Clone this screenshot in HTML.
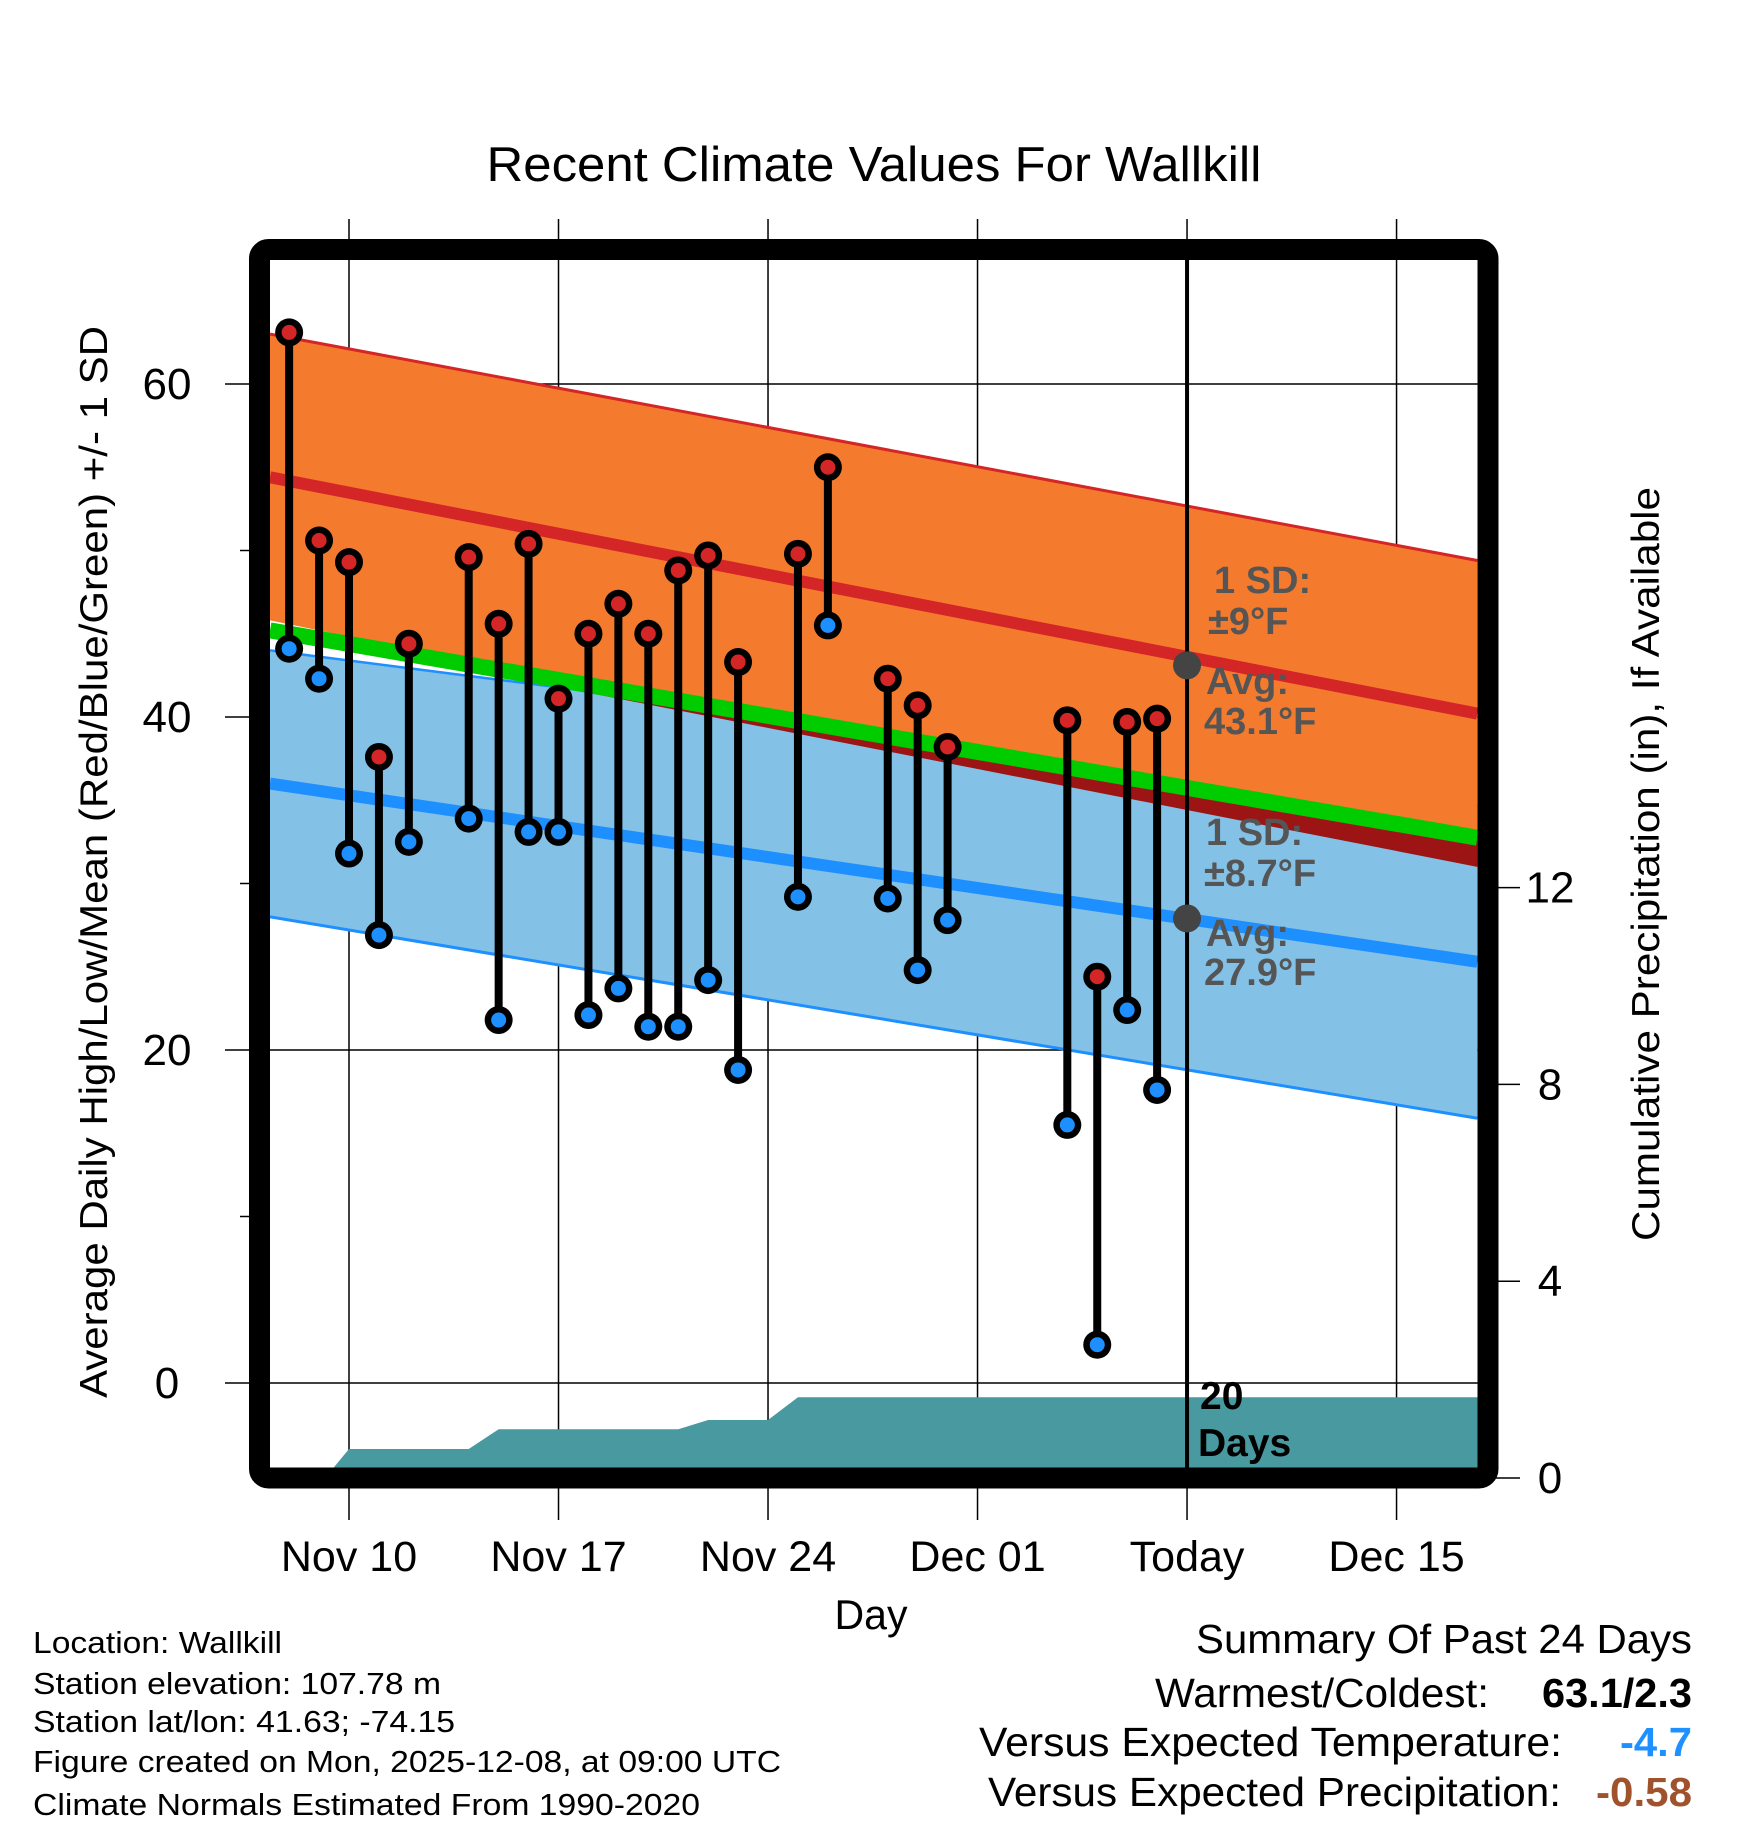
<!DOCTYPE html>
<html><head><meta charset="utf-8"><style>
html,body{margin:0;padding:0;background:#fff}
svg{display:block}
text{font-family:"Liberation Sans",Arial,sans-serif}
</style></head><body>
<svg id="chart" width="1748" height="1828" viewBox="0 0 1748 1828" xmlns="http://www.w3.org/2000/svg">
<defs><clipPath id="plotclip"><rect x="270" y="260" width="1208" height="1208"/></clipPath></defs>
<text x="874" y="181" font-size="49" text-anchor="middle" textLength="775" lengthAdjust="spacingAndGlyphs">Recent Climate Values For Wallkill</text>
<g id="grid"></g>
<g id="bands" clip-path="url(#plotclip)"></g>
<g id="precip" clip-path="url(#plotclip)"></g>
<g id="marks"></g>
<g id="annot"></g>
<rect x="259.5" y="249.5" width="1228.5" height="1228.5" rx="9" fill="none" stroke="#000" stroke-width="21"/>
<g id="axes"></g>
<text x="871" y="1629" font-size="42" text-anchor="middle" textLength="73" lengthAdjust="spacingAndGlyphs">Day</text>
<text transform="translate(107,862) rotate(-90)" font-size="39" text-anchor="middle" textLength="1072" lengthAdjust="spacingAndGlyphs">Average Daily High/Low/Mean (Red/Blue/Green) +/- 1 SD</text>
<text transform="translate(1659,864) rotate(-90)" font-size="39" text-anchor="middle" textLength="754" lengthAdjust="spacingAndGlyphs">Cumulative Precipitation (in), If Available</text>
<g font-size="31">
<text x="33" y="1653" textLength="249" lengthAdjust="spacingAndGlyphs">Location: Wallkill</text>
<text x="33" y="1694" textLength="408" lengthAdjust="spacingAndGlyphs">Station elevation: 107.78 m</text>
<text x="33" y="1732" textLength="422" lengthAdjust="spacingAndGlyphs">Station lat/lon: 41.63; -74.15</text>
<text x="33" y="1772" textLength="748" lengthAdjust="spacingAndGlyphs">Figure created on Mon, 2025-12-08, at 09:00 UTC</text>
<text x="33" y="1815" textLength="667" lengthAdjust="spacingAndGlyphs">Climate Normals Estimated From 1990-2020</text>
</g>
<g font-size="41">
<text x="1196" y="1653" textLength="496" lengthAdjust="spacingAndGlyphs">Summary Of Past 24 Days</text>
<text x="1155" y="1707" textLength="334" lengthAdjust="spacingAndGlyphs">Warmest/Coldest:</text>
<text x="1542" y="1707" font-weight="bold" textLength="150" lengthAdjust="spacingAndGlyphs">63.1/2.3</text>
<text x="979" y="1756" textLength="583" lengthAdjust="spacingAndGlyphs">Versus Expected Temperature:</text>
<text x="1620" y="1756" font-weight="bold" fill="#1e90ff" textLength="72" lengthAdjust="spacingAndGlyphs">-4.7</text>
<text x="988" y="1806" textLength="573" lengthAdjust="spacingAndGlyphs">Versus Expected Precipitation:</text>
<text x="1596" y="1806" font-weight="bold" fill="#a0522d" textLength="96" lengthAdjust="spacingAndGlyphs">-0.58</text>
</g>
</svg>
<script>
// Day numbers: November day; December = 30 + day
const days   = [8,9,10,11,12,14,15,16,17,18,19,20,21,22,23,25,26,28,29,30,34,35,36,37];
const highs  = [63.1,50.6,49.3,37.6,44.4,49.6,45.6,50.4,41.1,45.0,46.8,45.0,48.8,49.7,43.3,49.8,55.0,42.3,40.7,38.2,39.8,24.4,39.7,39.9];
const lows   = [44.1,42.3,31.8,26.9,32.5,33.9,21.8,33.1,33.1,22.1,23.7,21.4,21.4,24.2,18.8,29.2,45.5,29.1,24.8,27.8,15.5,2.3,22.4,17.6];
const precipDays = [8,9.2,10,14,15,21,22,24,25,37,48];
const precipVals = [0,0,0.59,0.59,0.99,0.99,1.18,1.18,1.64,1.64,1.64];
// normals at left edge / right edge
const normDays   = [7.36,47.7];
const highMean   = [54.4,40.2];
const highSD     = [8.6,9.2];
const lowMean    = [36.0,25.3];
const lowSD      = [8.0,9.4];
const xTickDays  = [10,17,24,31,38,45];
const xTickLabels= ["Nov 10","Nov 17","Nov 24","Dec 01","Today","Dec 15"];
const yTicks     = [0,20,40,60];
const yMinor     = [10,30,50];
const pTicks     = [0,4,8,12];
const todayDay = 38;

const NS="http://www.w3.org/2000/svg";
const X=d=>349+(d-10)*29.93;
const Y=v=>1383-16.65*v;
const P=p=>1478-49.2*p;
function mk(tag,attrs,parent){const e=document.createElementNS(NS,tag);for(const k in attrs)e.setAttribute(k,attrs[k]);parent.appendChild(e);return e;}
const grid=document.getElementById('grid'),bands=document.getElementById('bands'),precip=document.getElementById('precip'),marks=document.getElementById('marks'),annot=document.getElementById('annot'),axes=document.getElementById('axes');

xTickDays.forEach((d,i)=>{
  const l=mk('line',{x1:X(d),x2:X(d),y1:219,y2:1520,stroke:'#000','stroke-width':1.5},grid);
  
  
  const t=mk('text',{x:X(d),y:1571,'font-size':43,'text-anchor':'middle'},axes);
  t.textContent=xTickLabels[i];
  
  
});
yTicks.forEach(v=>{
  const l=mk('line',{x1:225,x2:1478,y1:Y(v),y2:Y(v),stroke:'#000','stroke-width':1.5},grid);
  
  
  const t=mk('text',{x:167,y:Y(v)+15,'font-size':44,'text-anchor':'middle'},axes);
  t.textContent=v;
  
  
});
yMinor.forEach(v=>{
  const l=mk('line',{x1:240,x2:252,y1:Y(v),y2:Y(v),stroke:'#000','stroke-width':1.5},axes);
  
  
});
pTicks.forEach(p=>{
  const l=mk('line',{x1:1495,x2:1520,y1:P(p),y2:P(p),stroke:'#000','stroke-width':1.5},axes);
  
  
  const t=mk('text',{x:1550,y:P(p)+15,'font-size':44,'text-anchor':'middle'},axes);
  t.textContent=p;
  
  
});

const L=normDays[0],R=normDays[1];
const hu=[highMean[0]+highSD[0],highMean[1]+highSD[1]], hl=[highMean[0]-highSD[0],highMean[1]-highSD[1]];
const lu=[lowMean[0]+lowSD[0],lowMean[1]+lowSD[1]], ll=[lowMean[0]-lowSD[0],lowMean[1]-lowSD[1]];
const gm=[(highMean[0]+lowMean[0])/2,(highMean[1]+lowMean[1])/2];
function band(up,lo,fill,name){const e=mk('polygon',{points:`${X(L)},${Y(up[0])} ${X(R)},${Y(up[1])} ${X(R)},${Y(lo[1])} ${X(L)},${Y(lo[0])}`,fill:fill},bands);return e;}
function ln(v,color,w,name){const e=mk('line',{x1:X(L),y1:Y(v[0]),x2:X(R),y2:Y(v[1]),stroke:color,'stroke-width':w},bands);return e;}
band(lu,ll,'#83c1e7','low-sd-band');
ln(lu,'#1e8fff',2.5,'low-plus-sd-line');
band(hu,hl,'#f47a2e','high-sd-band');
{
  const dl=[Math.min(hl[0],gm[0]),Math.min(hl[1],gm[1])];
  const e=mk('polygon',{points:`${X(L)},${Y(gm[0])} ${X(R)},${Y(gm[1])} ${X(R)},${Y(dl[1])} ${X(L)},${Y(dl[0])}`,fill:'#9c1414'},bands);
  
  
}
ln(ll,'#1e8fff',3,'low-minus-sd-line');
ln(hu,'#d42527',3,'high-plus-sd-line');
ln(gm,'#00cc00',16,'mean-line');
ln(highMean,'#d42527',12,'high-mean-line');
ln(lowMean,'#1e8fff',12,'low-mean-line');

{
  let pts=`${X(precipDays[0])},${P(0)} `;
  precipDays.forEach((d,i)=>{pts+=`${X(d)},${P(precipVals[i])} `;});
  pts+=`${X(precipDays[precipDays.length-1])},${P(0)}`;
  const e=mk('polygon',{points:pts,fill:'#489aa0'},precip);
  
  
}

{
  const e=mk('line',{x1:X(todayDay),x2:X(todayDay),y1:260,y2:1468,stroke:'#000','stroke-width':4},marks);
  
  
}

days.forEach((d,i)=>{
  const s=mk('line',{x1:X(d),x2:X(d),y1:Y(highs[i]),y2:Y(lows[i]),stroke:'#000','stroke-width':8},marks);
  
  
});
days.forEach((d,i)=>{
  [[highs[i],'#d42527','high-point'],[lows[i],'#1e8fff','low-point']].forEach(([v,c,n])=>{
    const o=mk('circle',{cx:X(d),cy:Y(v),r:14,fill:'#000'},marks);
    
    
    const p=mk('circle',{cx:X(d),cy:Y(v),r:7.5,fill:c},marks);
    
    
  });
});

const avgHigh=43.1, avgLow=27.9;
[avgHigh,avgLow].forEach(v=>{
  const c=mk('circle',{cx:X(todayDay),cy:Y(v),r:14,fill:'#444'},annot);
  
  
});
function at(x,y,txt,name,fill,size){const t=mk('text',{x:x,y:y,'font-size':size,'font-weight':'bold',fill:fill},annot);t.textContent=txt;return t;}
at(1214,593,'1 SD:','high-sd-label','#555',38);
at(1208,634,'±9°F','high-sd-value','#555',38);
at(1206,694,'Avg:','high-avg-label','#555',38);
at(1204,734,avgHigh+'°F','high-avg-value','#555',38);
at(1206,845,'1 SD:','low-sd-label','#555',38);
at(1204,886,'±8.7°F','low-sd-value','#555',38);
at(1206,946,'Avg:','low-avg-label','#555',38);
at(1204,985,avgLow+'°F','low-avg-value','#555',38);
at(1200,1409,'20','days-count','#000',39);
at(1198,1456,'Days','days-label','#000',39);
</script>
</body></html>
